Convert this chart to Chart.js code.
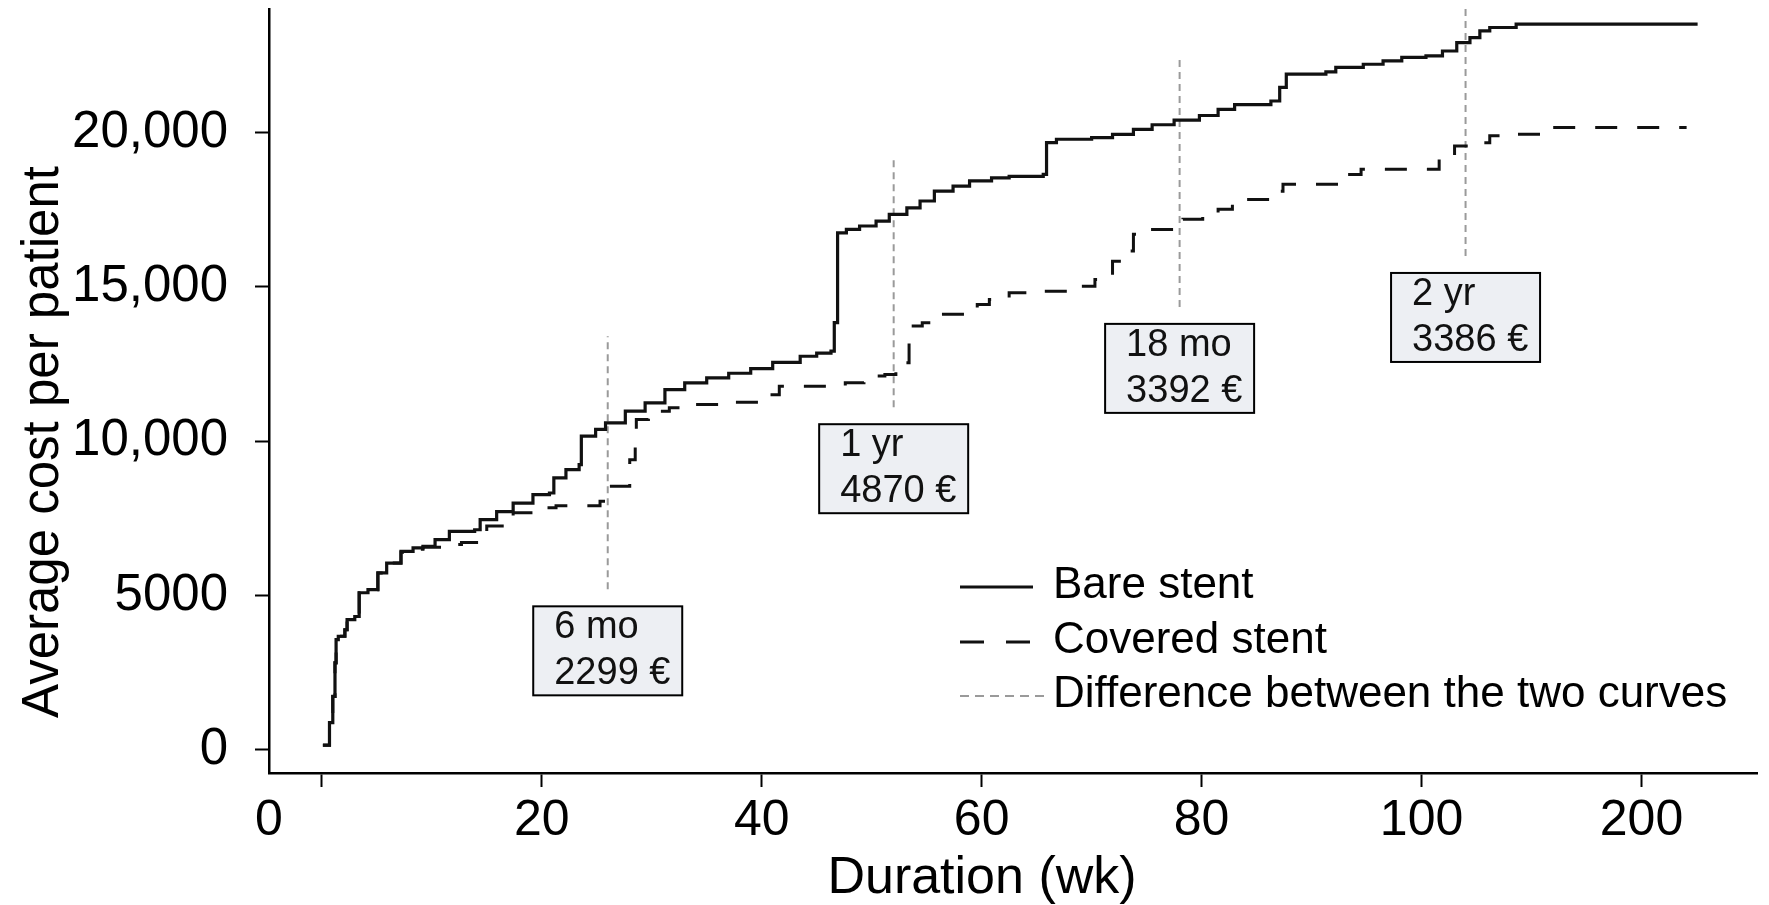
<!DOCTYPE html>
<html>
<head>
<meta charset="utf-8">
<title>Average cost per patient</title>
<script src="https://cdn.jsdelivr.net/npm/chart.js@4/dist/chart.umd.min.js"></script>
<style>
  html, body { margin: 0; padding: 0; background: #fff; }
  #wrap { width: 1769px; height: 905px; }
</style>
</head>
<body>
<div id="wrap"><canvas id="costChart" width="1769" height="905"></canvas></div>
<script>
// step curves: week -> cumulative average cost (EUR)
const bareWeeks = [0.1, 0.7, 1.0, 1.2, 1.3, 1.5, 2.1, 2.3, 3.0, 3.4, 4.2, 5.1, 5.9, 7.2, 8.3, 9.2, 10.3, 11.6, 13.9, 14.4,
  15.9, 17.4, 19.2, 20.7, 21.1, 22.2, 23.4, 23.6, 24.9, 25.8, 27.6, 29.4, 31.2, 33.0, 35.0, 37.0, 39.0, 41.0, 43.5, 45.0,
  46.3, 46.6, 46.9, 47.7, 48.9, 50.4, 51.6, 53.2, 54.4, 55.7, 57.4, 58.9, 60.9, 62.5, 65.6, 65.9, 66.8, 70.0, 71.9, 73.8,
  75.5, 77.5, 79.8, 81.5, 83.0, 86.3, 87.1, 87.7, 91.3, 92.2, 94.7, 96.5, 98.2, 100.4, 101.9, 103.2, 104.4, 105.3, 106.2, 108.6,
  125.1];
const bareCost = [150, 880, 1730, 2820, 3570, 3680, 3890, 4220, 4320, 5090, 5190, 5730, 6050, 6430, 6540, 6590, 6810, 7080, 7130, 7460,
  7720, 7990, 8270, 8320, 8810, 9080, 9240, 10160, 10380, 10590, 10970, 11240, 11670, 11890, 12050, 12200, 12350, 12550, 12750, 12850,
  12920, 13840, 16750, 16860, 16970, 17130, 17350, 17560, 17780, 18100, 18260, 18430, 18530, 18580, 18640, 19670, 19780, 19830, 19940, 20100,
  20250, 20400, 20550, 20750, 20900, 21020, 21460, 21890, 21960, 22110, 22210, 22320, 22430, 22480, 22640, 22910, 23070, 23290, 23400, 23510,
  23510];

const coveredWeeks = [0.1, 0.7, 1.0, 1.2, 1.3, 1.5, 2.1, 2.3, 3.0, 3.4, 4.2, 5.1, 5.9, 7.2, 8.3, 9.2, 10.9, 12.7, 14.4, 15.0,
  17.3, 17.4, 19.8, 21.3, 25.3, 26.0, 28.0, 28.5, 28.6, 29.7, 31.6, 33.4, 36.7, 40.0, 41.6, 47.6, 49.3, 51.2, 52.2, 53.4,
  54.6, 55.8, 59.6, 60.7, 62.5, 64.2, 67.8, 70.3, 71.9, 72.8, 73.8, 75.3, 77.8, 78.3, 80.1, 81.5, 82.8, 86.0, 87.4, 93.2,
  94.5, 101.6, 103.0, 104.4, 106.2, 107.8, 111.3, 124.1];
const coveredCost = [150, 880, 1730, 2820, 3570, 3680, 3890, 4220, 4320, 5090, 5190, 5730, 6050, 6400, 6500, 6560, 6650, 6720, 6920, 7250,
  7350, 7680, 7840, 7910, 8050, 8540, 9400, 9950, 10700, 10970, 11080, 11190, 11260, 11500, 11780, 11890, 12110, 12160, 12540, 13730,
  13840, 14110, 14430, 14590, 14810, 14860, 15020, 15240, 15830, 16160, 16700, 16860, 17020, 17190, 17400, 17510, 17830, 18100, 18320, 18640,
  18810, 19180, 19560, 19670, 19890, 19940, 20160, 20160];

// vertical "difference" markers
const diffWeeks = [26, 52, 78, 104];
const diffLow = [5200, 11100, 14350, 16000];
const diffHigh = [13400, 19200, 22500, 24300];
const diffLabels = ["6 mo", "1 yr", "18 mo", "2 yr"];
const diffValues = [2299, 4870, 3392, 3386];

// axes
const xMin = -4.8, xMax = 130.5;
const xTickValues = [xMin, 0, 20, 40, 60, 80, 100, 120];
const xTickLabels = ["0", "", "20", "40", "60", "80", "100", "200"];
const yMin = -750, yMax = 24000;
const yTickValues = [0, 5000, 10000, 15000, 20000];
const yTickLabels = ["0", "5000", "10,000", "15,000", "20,000"];

const FONT = "'Liberation Sans', Arial, Helvetica, sans-serif";

function toPoints(xs, ys) {
  return xs.map((x, i) => ({ x: x, y: ys[i] }));
}

const diffPoints = [];
diffWeeks.forEach((w, i) => {
  diffPoints.push({ x: w, y: diffLow[i] }, { x: w, y: diffHigh[i] }, { x: w, y: null });
});

// scales should not reserve extra room for their end labels
function noPadding(s) {
  s.paddingTop = 0;
  s.paddingBottom = 0;
  s.paddingLeft = 0;
  s.paddingRight = 0;
}

// boxes with the difference at each time point
const diffBoxes = {
  id: "diffBoxes",
  afterDatasetsDraw(chart) {
    const { ctx, scales: { x, y } } = chart;
    const w = 149, h = 89;
    ctx.save();
    diffWeeks.forEach((wk, i) => {
      const cx = x.getPixelForValue(wk);
      const top = y.getPixelForValue(diffLow[i]) + 17;
      const left = cx - w / 2;
      ctx.fillStyle = "#edeff3";
      ctx.fillRect(left, top, w, h);
      ctx.strokeStyle = "#000";
      ctx.lineWidth = 2;
      ctx.strokeRect(left, top, w, h);
      ctx.fillStyle = "#111";
      ctx.font = "38px " + FONT;
      ctx.textAlign = "left";
      ctx.textBaseline = "alphabetic";
      ctx.fillText(diffLabels[i], left + 21, top + 32);
      ctx.fillText(diffValues[i] + " \u20ac", left + 21, top + 78);
    });
    ctx.restore();
  }
};

// legend inside the plot, lower right
const insideLegend = {
  id: "insideLegend",
  afterDraw(chart) {
    const ctx = chart.ctx;
    const rows = [587, 642, 696];
    ctx.save();
    chart.data.datasets.forEach((ds, i) => {
      const yy = rows[i];
      ctx.beginPath();
      ctx.setLineDash(ds.legendDash || []);
      ctx.strokeStyle = ds.borderColor;
      ctx.lineWidth = ds.borderWidth;
      ctx.moveTo(960, yy);
      ctx.lineTo(i === 2 ? 1050 : 1033, yy);
      ctx.stroke();
      ctx.setLineDash([]);
      ctx.fillStyle = "#000";
      ctx.font = "44px " + FONT;
      ctx.textAlign = "left";
      ctx.textBaseline = "alphabetic";
      ctx.fillText(ds.label, 1053, yy + 11);
    });
    ctx.restore();
  }
};

// axis titles: in the original both sit off-centre, so they are placed by hand
const axisTitles = {
  id: "axisTitles",
  afterDraw(chart) {
    const { ctx, chartArea } = chart;
    ctx.save();
    ctx.fillStyle = "#000";
    ctx.textAlign = "center";
    ctx.textBaseline = "alphabetic";
    ctx.font = "52px " + FONT;
    ctx.fillText("Duration (wk)", (chartArea.left + chartArea.right) / 2 - 31, 893);

    ctx.translate(58, (chartArea.top + chartArea.bottom) / 2 + 51);
    ctx.rotate(-Math.PI / 2);
    ctx.font = "51px " + FONT;
    ctx.fillText("Average cost per patient", 0, 0);
    ctx.restore();
  }
};

new Chart(document.getElementById("costChart"), {
  type: "line",
  data: {
    datasets: [
      {
        label: "Bare stent",
        data: toPoints(bareWeeks, bareCost),
        borderColor: "#111",
        borderWidth: 3.2,
        stepped: true,
        pointRadius: 0,
        legendDash: []
      },
      {
        label: "Covered stent",
        data: toPoints(coveredWeeks, coveredCost),
        borderColor: "#111",
        borderWidth: 3,
        borderDash: [22, 20],
        stepped: true,
        pointRadius: 0,
        legendDash: [24, 22]
      },
      {
        label: "Difference between the two curves",
        data: diffPoints,
        borderColor: "#9a9a9a",
        borderWidth: 2,
        borderDash: [7, 5],
        pointRadius: 0,
        spanGaps: false,
        legendDash: [9, 6]
      }
    ]
  },
  options: {
    responsive: false,
    animation: false,
    devicePixelRatio: 1,
    layout: { padding: { top: 9, right: 12, left: 0, bottom: 0 } },
    plugins: {
      legend: { display: false },
      tooltip: { enabled: false }
    },
    scales: {
      x: {
        type: "linear",
        min: xMin,
        max: xMax,
        afterBuildTicks: (s) => { s.ticks = xTickValues.map(v => ({ value: v })); },
        afterFit: (s) => { s.height = 132; noPadding(s); },
        ticks: {
          autoSkip: false,
          maxRotation: 0,
          padding: 4,
          color: "#000",
          font: { family: FONT, size: 50 },
          callback: (v, i) => xTickLabels[i]
        },
        grid: {
          drawOnChartArea: false,
          drawTicks: true,
          tickLength: 14,
          tickWidth: 2,
          tickColor: (c) => (c.tick && c.tick.value === xMin ? "rgba(0,0,0,0)" : "#000")
        },
        border: { color: "#000", width: 2.5 }
      },
      y: {
        min: yMin,
        max: yMax,
        afterBuildTicks: (s) => { s.ticks = yTickValues.map(v => ({ value: v })); },
        afterFit: (s) => { s.width = 269; noPadding(s); },
        ticks: {
          autoSkip: false,
          padding: 27,
          color: "#000",
          font: { family: FONT, size: 51 },
          callback: (v, i) => yTickLabels[i]
        },
        grid: {
          drawOnChartArea: false,
          drawTicks: true,
          tickLength: 14,
          tickWidth: 2,
          tickColor: "#000"
        },
        border: { color: "#000", width: 2.5 }
      }
    }
  },
  plugins: [diffBoxes, insideLegend, axisTitles]
});
</script>
</body>
</html>
